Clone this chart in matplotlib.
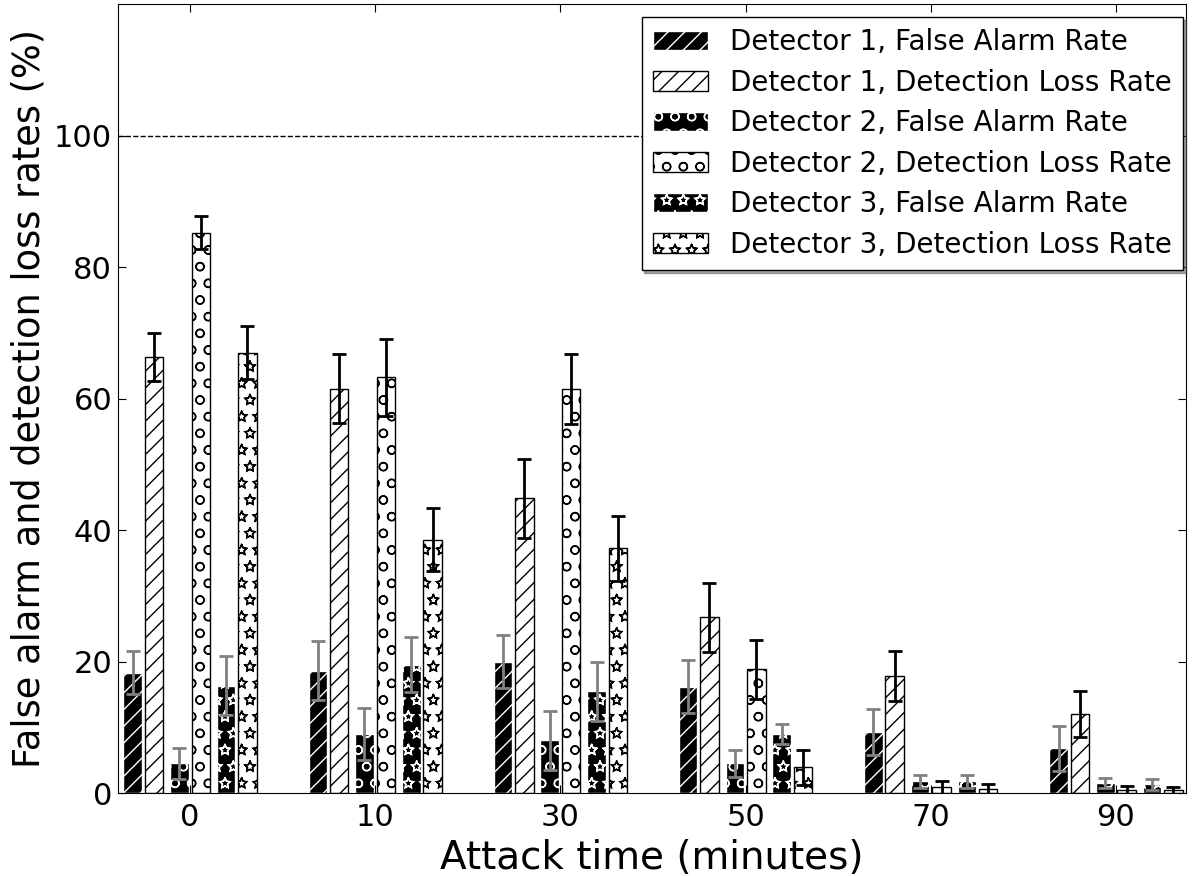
import numpy as np
import matplotlib
matplotlib.use("Agg")
import matplotlib.pyplot as plt
import matplotlib.hatch

# outline stars and slightly bigger circles, like the old hatch style
matplotlib.hatch.Stars.filled = False
matplotlib.hatch.SmallCircles.size = 0.25

attack_times = ["0", "10", "30", "50", "70", "90"]

labels = ["Detector 1, False Alarm Rate", "Detector 1, Detection Loss Rate",
          "Detector 2, False Alarm Rate", "Detector 2, Detection Loss Rate",
          "Detector 3, False Alarm Rate", "Detector 3, Detection Loss Rate"]

d1_far = [18.3, 18.6, 20.0, 16.2, 9.3, 6.8]
d1_far_err = [3.3, 4.5, 4.0, 4.0, 3.5, 3.4]
d1_dlr = [66.3, 61.5, 44.8, 26.7, 17.8, 12.0]
d1_dlr_err = [3.6, 5.2, 6.0, 5.2, 3.8, 3.5]

d2_far = [4.5, 9.0, 8.0, 4.5, 1.8, 1.5]
d2_far_err = [2.4, 3.9, 4.5, 2.0, 1.0, 0.8]
d2_dlr = [85.2, 63.2, 61.5, 18.8, 0.9, 0.5]
d2_dlr_err = [2.5, 5.9, 5.3, 4.5, 1.0, 0.6]

d3_far = [16.3, 19.5, 15.5, 9.0, 1.8, 1.3]
d3_far_err = [4.5, 4.2, 4.5, 1.5, 1.0, 0.8]
d3_dlr = [67.0, 38.5, 37.2, 3.9, 0.6, 0.4]
d3_dlr_err = [4.1, 4.8, 5.0, 2.7, 0.8, 0.5]

series = [d1_far, d1_dlr, d2_far, d2_dlr, d3_far, d3_dlr]
errors = [d1_far_err, d1_dlr_err, d2_far_err, d2_dlr_err, d3_far_err, d3_dlr_err]
hatches = ["//", "//", "o", "o", "*", "*"]
offsets = [-0.31, -0.195, -0.058, 0.058, 0.195, 0.31]
width = 0.1

x = np.arange(len(attack_times))

fig = plt.figure(figsize=(12.02, 8.76), dpi=100)
ax = fig.add_axes([0.098, 0.0947, 0.889, 0.9007])

ax.axhline(100, color="k", ls="--", lw=1, zorder=0)

for i in range(6):
    far = (i % 2 == 0)
    ax.bar(x + offsets[i], series[i], width,
           color="k" if far else "w",
           edgecolor="w" if far else "k",
           hatch=hatches[i], linewidth=1, label=labels[i])
    ax.errorbar(x + offsets[i], series[i], yerr=errors[i], fmt="none",
                ecolor="0.5" if far else "k", elinewidth=2, capsize=5, capthick=2)

ax.set_xlim(-0.39, 5.38)
ax.set_ylim(0, 120)
ax.set_xticks(x)
ax.set_xticklabels(attack_times)
ax.set_yticks(range(0, 101, 20))
ax.tick_params(direction="in", top=True, right=True, labelsize=22, length=6)
ax.tick_params(axis="y", pad=4)
ax.tick_params(axis="x", pad=7)
ax.set_xlabel("Attack time (minutes)", fontsize=28, labelpad=5)
ax.set_ylabel("False alarm and detection loss rates (%)", fontsize=26.5, labelpad=5)

leg = ax.legend(loc="upper right", bbox_to_anchor=(0.9972, 0.9835), borderaxespad=0,
                fontsize=20, shadow=True, fancybox=False, framealpha=1,
                handlelength=2.0, labelspacing=0.45)
leg.get_frame().set_edgecolor("k")

fig.savefig("out.png", dpi=100)
